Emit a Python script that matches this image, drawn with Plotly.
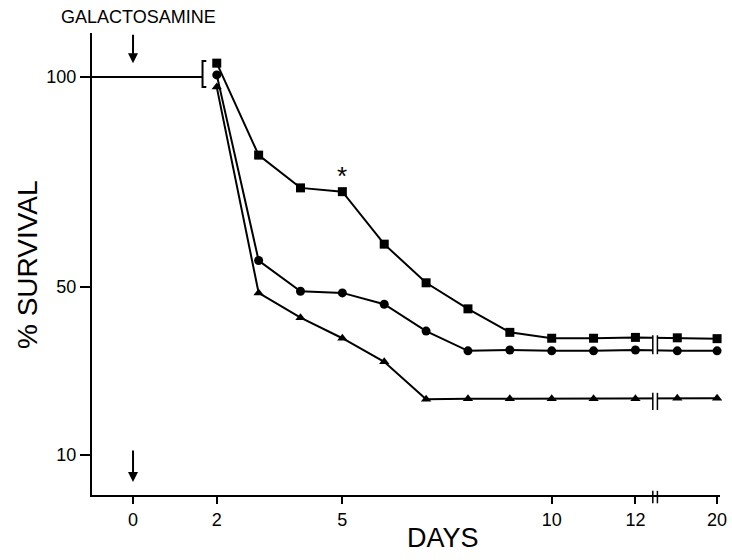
import plotly.graph_objects as go

# Plot positions along the (broken) day axis; the last two points lie after the axis break
x_pos = [2, 3, 4, 5, 6, 7, 8, 9, 10, 11, 12, 13, 13.95]
x_tick_pos = [0, 2, 5, 10, 12, 13.95]
x_tick_text = ["0", "2", "5", "10", "12", "20"]
y_tick_vals = [10, 50, 100]

squares = [103.3, 81.4, 73.6, 72.7, 60.2, 51.0, 44.8, 39.2, 37.8, 37.8, 38.0, 37.9, 37.7]
circles = [100.5, 56.3, 49.0, 48.6, 45.9, 39.5, 34.8, 35.0, 34.8, 34.8, 35.0, 34.8, 34.8]
triangles = [97.6, 48.6, 42.7, 37.8, 32.2, 23.3, 23.4, 23.4, 23.4, 23.4, 23.4, 23.5, 23.5]

baseline = 100
break_pos = 12.47
star_day = 5

FONT = "Liberation Sans, Arial, sans-serif"

fig = go.Figure()

# 100% line before the first observation
fig.add_trace(go.Scatter(x=[-0.98, 1.65], y=[baseline, baseline], mode="lines",
                         line=dict(color="black", width=2), hoverinfo="skip", showlegend=False))

for vals, sym, size in [(squares, "square", 9), (circles, "circle", 9), (triangles, "triangle-up", 9)]:
    fig.add_trace(go.Scatter(x=x_pos, y=vals, mode="lines+markers",
                             line=dict(color="black", width=2),
                             marker=dict(symbol=sym, size=size, color="black"),
                             showlegend=False, cliponaxis=False))

shapes = []
# bracket "["
shapes.append(dict(type="path", xref="x", yref="y",
                   path="M 1.75 103.8 L 1.66 103.8 L 1.66 97.6 L 1.75 97.6",
                   line=dict(color="black", width=2)))
# break marks on data lines
for lo, hi in [(min(squares[11], circles[11]) - 0.8, max(squares[11], circles[11]) + 0.6),
               (triangles[11] - 2.8, triangles[11] + 1.3)]:
    shapes.append(dict(type="rect", xref="x", yref="y", x0=break_pos - 0.06, x1=break_pos + 0.06,
                       y0=lo + 0.2, y1=hi - 0.2, fillcolor="white", line=dict(width=0), layer="above"))
    for dx in (-0.055, 0.055):
        shapes.append(dict(type="line", xref="x", yref="y", x0=break_pos + dx, x1=break_pos + dx,
                           y0=lo, y1=hi, line=dict(color="black", width=1.5), layer="above"))
# break marks on the x axis
for dx in (-0.055, 0.055):
    shapes.append(dict(type="line", xref="x", yref="paper", x0=break_pos + dx, x1=break_pos + dx,
                       y0=-0.018, y1=0.009, line=dict(color="black", width=1.5), layer="above"))

annotations = [
    dict(x=0, y=103.3, xref="x", yref="y", text="", showarrow=True, ax=0, ay=-30,
         arrowhead=2, arrowsize=1, arrowwidth=2, arrowcolor="black"),
    dict(x=0, y=3.6, xref="x", yref="y", text="", showarrow=True, ax=0, ay=-33,
         arrowhead=2, arrowsize=1, arrowwidth=2, arrowcolor="black"),
    dict(x=0.12, y=1.0, xref="x", yref="paper", yshift=16, text="GALACTOSAMINE", showarrow=False,
         font=dict(family=FONT, size=18, color="black"), yanchor="middle", xanchor="center"),
    dict(x=star_day, y=squares[3], xref="x", yref="y", yshift=16, text="*", showarrow=False,
         font=dict(family=FONT, size=26, color="black"), yanchor="middle"),
    dict(x=443, y=538, xref="paper", yref="paper", text="DAYS", showarrow=False,
         xanchor="center", yanchor="middle",
         font=dict(family=FONT, size=27, color="black")),
    dict(x=27, y=265, xref="paper", yref="paper", text="% SURVIVAL", showarrow=False, textangle=-90,
         xanchor="center", yanchor="middle",
         font=dict(family=FONT, size=28, color="black")),
]
# convert pixel-placed titles to paper coords
L, R, T, B = 92, 12, 33, 65
W, H = 732, 560
pw, ph = W - L - R, H - T - B
for a in annotations[4:]:
    a["x"] = (a["x"] - L) / pw
    a["y"] = (H - B - a["y"]) / ph

fig.update_layout(
    width=W, height=H, margin=dict(l=L, r=R, t=T, b=B, autoexpand=False),
    plot_bgcolor="white", paper_bgcolor="white",
    shapes=shapes, annotations=annotations,
    xaxis=dict(range=[-0.98, 14.02], tickvals=x_tick_pos, ticktext=x_tick_text, automargin=False,
               showline=True, linecolor="black", linewidth=2, ticks="outside", ticklen=7,
               tickwidth=2, tickcolor="black", showgrid=False, zeroline=False,
               tickfont=dict(family=FONT, size=18, color="black")),
    yaxis=dict(range=[0.476, 110.476], tickvals=y_tick_vals, automargin=False,
               showline=True, linecolor="black", linewidth=2, ticks="outside", ticklen=10,
               tickwidth=2, tickcolor="black", showgrid=False, zeroline=False,
               tickfont=dict(family=FONT, size=18, color="black")),
)

fig.write_html("out.html", config={"displayModeBar": False},
               post_script="document.body.style.margin='0';document.body.style.overflow='hidden';")
